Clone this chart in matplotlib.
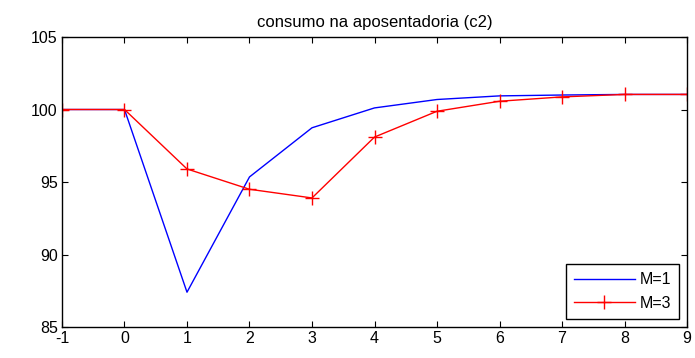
import numpy as np
import matplotlib.pyplot as plt

plt.rcParams['font.family'] = ['Liberation Sans', 'DejaVu Sans']
plt.rcParams['axes.unicode_minus'] = False

periods = [-1, 0, 1, 2, 3, 4, 5, 6, 7, 8, 9]
c2_m1 = [100.0, 100.0, 87.4, 95.35, 98.74, 100.11, 100.69, 100.94, 101.0, 101.04, 101.04]
c2_m3 = [100.0, 100.0, 95.9, 94.5, 93.9, 98.1, 99.88, 100.57, 100.87, 101.04, 101.04]

fig = plt.figure(figsize=(6.95, 3.58), dpi=100)
ax = fig.add_axes([0.0892, 0.0866, 0.8993, 0.81])

ax.plot(periods, c2_m1, color='blue', lw=1.0, label='M=1')
ax.plot(periods, c2_m3, color='red', lw=1.0, marker='+', ms=10, mew=1.0, label='M=3')

ax.set_xlim(-1, 9)
ax.set_ylim(85, 105)
ax.set_xticks(np.arange(-1, 10, 1))
ax.set_yticks([85, 90, 95, 100, 105])
ax.tick_params(direction='in', top=True, right=True, length=4, width=0.8,
               labelsize=11.5, pad=3)
for s in ax.spines.values():
    s.set_linewidth(1.0)

ax.set_title('consumo na aposentadoria (c2)', fontsize=12, pad=7)

leg = ax.legend(loc='lower right', fontsize=11.5, frameon=True, fancybox=False,
                edgecolor='black', framealpha=1, handlelength=3.8,
                borderaxespad=0.5, labelspacing=0.55, handletextpad=0.3,
                borderpad=0.5)
leg.get_frame().set_linewidth(1.0)

plt.savefig('out.png', dpi=100)
